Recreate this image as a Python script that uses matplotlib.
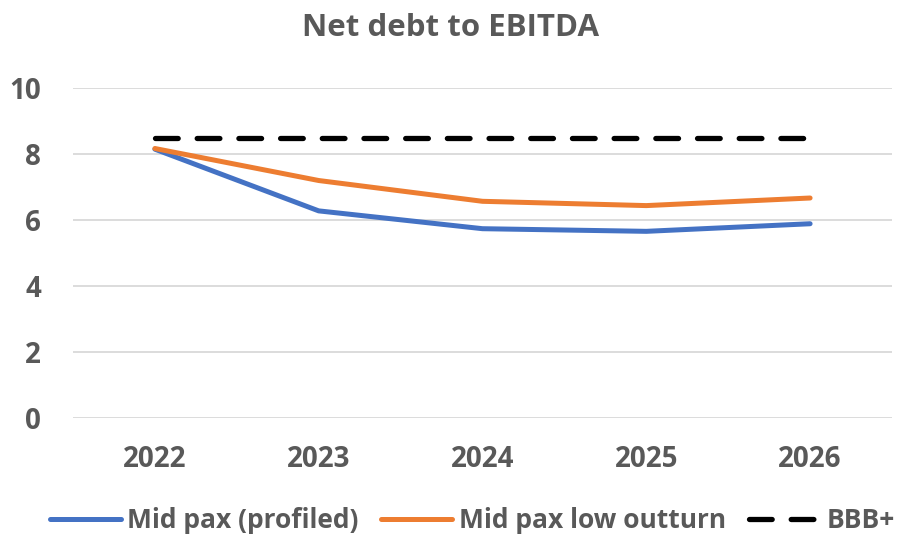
import matplotlib.pyplot as plt

years = ["2022", "2023", "2024", "2025", "2026"]
mid_profiled = [8.15, 6.28, 5.74, 5.66, 5.89]
mid_low = [8.17, 7.2, 6.57, 6.44, 6.67]
bbb_plus = [8.5, 8.5, 8.5, 8.5, 8.5]

plt.rcParams['font.family'] = ['Open Sans', 'DejaVu Sans']
grey = '#595959'

fig = plt.figure(figsize=(9.01, 5.34), dpi=100)
ax = fig.add_axes([0.081, 0.217, 0.909, 0.618])

x = range(len(years))
ax.plot(x, mid_profiled, color='#4472C4', lw=3.6, solid_capstyle='round', label='Mid pax (profiled)')
ax.plot(x, mid_low, color='#ED7D31', lw=3.6, solid_capstyle='round', label='Mid pax low outturn')
ax.plot(x, bbb_plus, color='black', lw=3.8, dashes=(4.3, 3.6), dash_capstyle='round', label='BBB+')

ax.set_xlim(-0.5, len(years) - 0.5)
ax.set_ylim(0, 10)
ax.set_yticks(range(0, 11, 2))
ax.set_xticks(list(x))
ax.set_xticklabels(years)
ax.grid(axis='y', color='#d9d9d9', lw=1.3)
ax.set_axisbelow(True)
for s in ax.spines.values():
    s.set_visible(False)
ax.tick_params(length=0, labelsize=20, labelcolor=grey)
ax.tick_params(axis='x', pad=19)
ax.tick_params(axis='y', pad=23)
for lbl in ax.get_xticklabels() + ax.get_yticklabels():
    lbl.set_fontweight('bold')

fig.suptitle("Net debt to EBITDA", y=0.975, fontsize=22.5, fontweight='bold', color=grey)

leg = fig.legend(loc='lower center', ncol=3, frameon=False, bbox_to_anchor=(0.524, -0.045),
                 prop={'size': 19, 'weight': 'bold'}, handlelength=2.7, columnspacing=0.85,
                 handletextpad=0.25)
for t in leg.get_texts():
    t.set_color(grey)

fig.savefig("out.png", dpi=100)
